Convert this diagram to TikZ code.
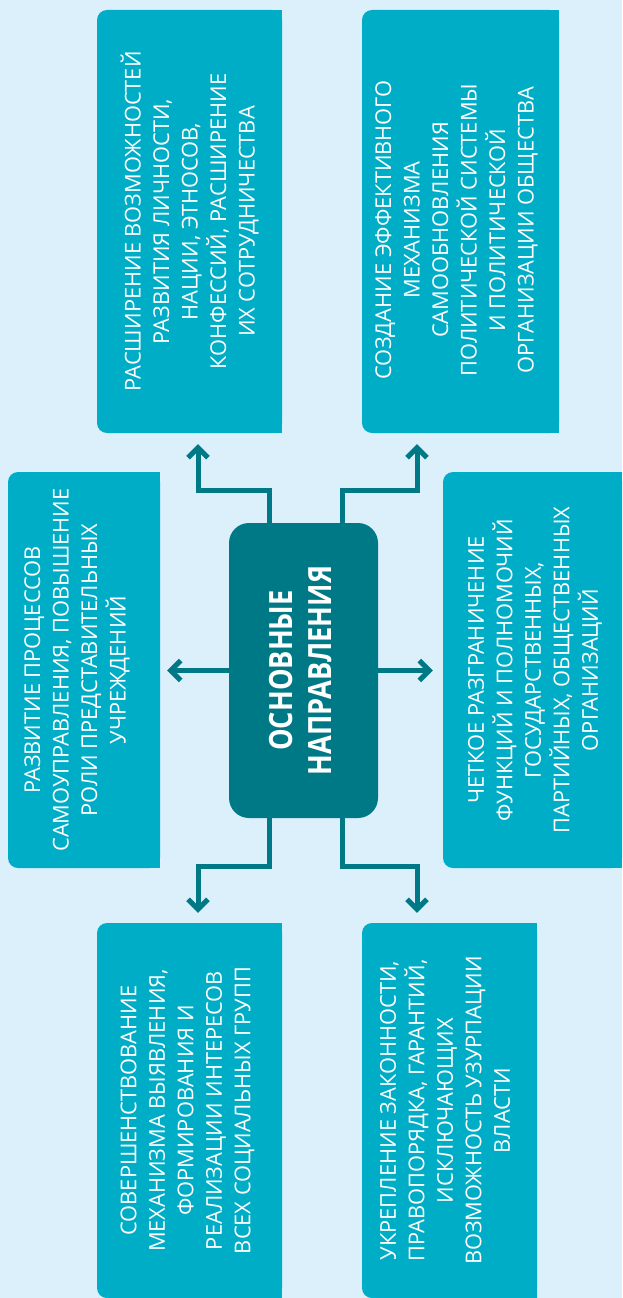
\documentclass[tikz,border=0pt]{standalone}
\usepackage{fontspec}
\setmainfont{Open Sans}
\newfontfamily\headfont[FakeStretch=0.85]{Open Sans}
\usepackage{xcolor}
\usetikzlibrary{arrows.meta}

\definecolor{paleblue}{RGB}{220,240,252}
\definecolor{boxteal}{RGB}{0,173,198}
\definecolor{hubteal}{RGB}{0,121,135}

\tikzset{
 tealbox/.style={fill=boxteal,rounded corners=10pt,inner sep=0pt},
 boxtext/.style={rotate=90,text=white,align=center,inner sep=0pt,font=\fontsize{21.8}{28.5}\selectfont},
 hubbox/.style={fill=hubteal,rounded corners=20pt,inner sep=0pt,minimum width=149pt,minimum height=295pt},
 hubtext/.style={rotate=90,text=white,align=center,inner sep=0pt,font=\headfont\bfseries\fontsize{32}{39}\selectfont},
 link/.style={draw=hubteal,line width=5pt,-{Straight Barb[length=10pt,width=20pt]}}
}

\begin{document}
\begin{tikzpicture}[x=1pt,y=-1pt]
\fill[paleblue](0,0) rectangle (622,1298);
\useasboundingbox (0,0) rectangle (622,1298);

% boxes: name/left/top/right/bottom
\foreach\nm/\xa/\ya/\xb/\yb in{tl/97/10/282/433,tr/362/10/559/433,ml/8/472/160/868,mr/443/472/622/868,bl/97/923/282/1298,br/362/923/537/1298}{
 \node[tealbox,minimum width=(\xb-\xa)*1pt,minimum height=(\yb-\ya)*1pt](\nm) at({(\xa+\xb)/2},{(\ya+\yb)/2}){};
 \fill[boxteal](\nm.north) rectangle (\nm.south east);
}

\node[boxtext](tltext) at(tl.center){РАСШИРЕНИЕ ВОЗМОЖНОСТЕЙ\\РАЗВИТИЯ ЛИЧНОСТИ,\\НАЦИИ, ЭТНОСОВ,\\КОНФЕССИЙ, РАСШИРЕНИЕ\\ИХ СОТРУДНИЧЕСТВА};
\node[boxtext](trtext) at([xshift=-4pt,yshift=-8.5pt]tr.center){СОЗДАНИЕ ЭФФЕКТИВНОГО\\МЕХАНИЗМА\\САМООБНОВЛЕНИЯ\\ПОЛИТИЧЕСКОЙ СИСТЕМЫ\\И ПОЛИТИЧЕСКОЙ\\ОРГАНИЗАЦИИ ОБЩЕСТВА};
\node[boxtext](mltext) at([xshift=-7pt]ml.center){РАЗВИТИЕ ПРОЦЕССОВ\\САМОУПРАВЛЕНИЯ, ПОВЫШЕНИЕ\\РОЛИ ПРЕДСТАВИТЕЛЬНЫХ\\УЧРЕЖДЕНИЙ};
\node[boxtext](mrtext) at([xshift=2.5pt]mr.center){ЧЕТКОЕ РАЗГРАНИЧЕНИЕ\\ФУНКЦИЙ И ПОЛНОМОЧИЙ\\ГОСУДАРСТВЕННЫХ,\\ПАРТИЙНЫХ, ОБЩЕСТВЕННЫХ\\ОРГАНИЗАЦИЙ};
\node[boxtext](bltext) at([xshift=-2pt]bl.center){СОВЕРШЕНСТВОВАНИЕ\\МЕХАНИЗМА ВЫЯВЛЕНИЯ,\\ФОРМИРОВАНИЯ И\\РЕАЛИЗАЦИИ ИНТЕРЕСОВ\\ВСЕХ СОЦИАЛЬНЫХ ГРУПП};
\node[boxtext](brtext) at([xshift=-4.5pt]br.center){УКРЕПЛЕНИЕ ЗАКОННОСТИ,\\ПРАВОПОРЯДКА, ГАРАНТИЙ,\\ИСКЛЮЧАЮЩИХ\\ВОЗМОЖНОСТЬ УЗУРПАЦИИ\\ВЛАСТИ};

% centre
\node[hubbox](hub) at(303.5,670.5){};
\node[hubtext](hubtitle) at([xshift=-3pt]hub.center){ОСНОВНЫЕ\\НАПРАВЛЕНИЯ};

% connectors
\draw[link]([xshift=-34.5pt]hub.north) -- ++(0,-32) -| ([xshift=8.5pt,yshift=-11pt]tl.south);
\draw[link]([xshift=38.5pt]hub.north) -- ++(0,-32) -| ([xshift=-43.5pt,yshift=-11pt]tr.south);
\draw[link](hub.west) -- ([xshift=7pt]hub.west -| ml.east);
\draw[link](hub.east) -- ([xshift=-10pt]hub.east -| mr.west);
\draw[link]([xshift=-34.5pt]hub.south) -- ++(0,48) -| ([xshift=8.5pt,yshift=10pt]bl.north);
\draw[link]([xshift=38.5pt]hub.south) -- ++(0,48) -| ([xshift=-32.5pt,yshift=10pt]br.north);
\end{tikzpicture}
\end{document}
